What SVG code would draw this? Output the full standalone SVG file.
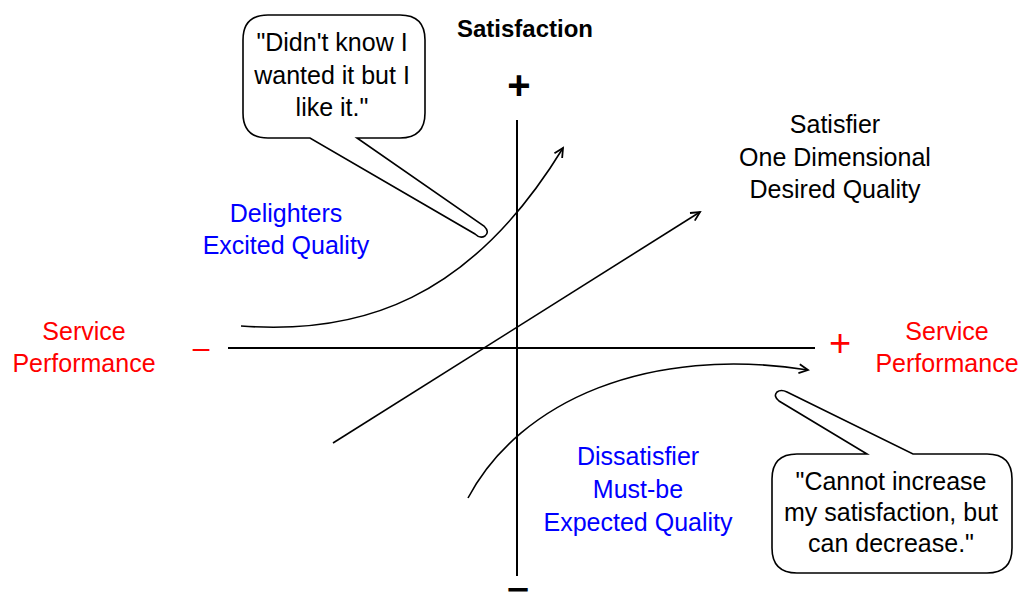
<svg xmlns="http://www.w3.org/2000/svg" width="1024" height="603" viewBox="0 0 1024 603">
<style>
text{font-family:"Liberation Sans",Arial,sans-serif;font-size:25px;text-anchor:middle}
.k{fill:#000}
.b{fill:#0000ff}
.r{fill:#ff0000}
.axis{stroke:#000;stroke-width:2;fill:none}
.cur{stroke:#000;stroke-width:1.6;fill:none;marker-end:url(#ah)}
.bub{stroke:#000;stroke-width:1.6;fill:#fff}
</style>
<defs>
<marker id="ah" markerUnits="userSpaceOnUse" markerWidth="14" markerHeight="14" refX="10" refY="5" orient="auto" viewBox="0 0 14 10">
<polyline points="1,0.5 10,5 1,9.5" fill="none" stroke="#000" stroke-width="1.8"/>
</marker>
</defs>
<rect width="1024" height="603" fill="#fff"/>
<g id="axes">
<line class="axis" x1="517" y1="120" x2="517" y2="576"/>
<line class="axis" x1="228" y1="348" x2="815" y2="348"/>
<text x="519" y="99" style="font-size:40px;font-weight:bold">+</text>
<text x="0" y="0" transform="translate(518,597) scale(1.6,1)" style="font-size:22px;font-weight:bold;stroke:#000;stroke-width:1">−</text>
<text x="525" y="37" style="font-weight:bold;font-size:24px">Satisfaction</text>
<text class="r" x="201" y="358" style="font-size:30px">–</text>
<text class="r" x="840" y="356" style="font-size:38px">+</text>
<text class="r" x="84" y="340">Service</text>
<text class="r" x="84" y="372">Performance</text>
<text class="r" x="947" y="340">Service</text>
<text class="r" x="947" y="372">Performance</text>
</g>
<g id="connectors">
<path class="cur" d="M241,326 C360,335 470,300 563,148"/>
<path class="cur" d="M333,443 L700,212"/>
<path class="cur" d="M468,498 C520,400 650,345 808,370"/>
</g>
<g id="delighters">
<text class="b" x="286" y="222">Delighters</text>
<text class="b" x="286" y="254">Excited Quality</text>
</g>
<g id="satisfier">
<text class="k" x="835" y="133">Satisfier</text>
<text class="k" x="835" y="166">One Dimensional</text>
<text class="k" x="835" y="198">Desired Quality</text>
</g>
<g id="dissatisfier">
<text class="b" x="638" y="465">Dissatisfier</text>
<text class="b" x="638" y="498">Must-be</text>
<text class="b" x="638" y="531">Expected Quality</text>
</g>
<g id="bubble1">
<path class="bub" d="M268,15 H400 Q425,15 425,40 V113 Q425,138 400,138 H357 L484,226 Q490,232 485,236 Q480,239 475,234 L310,138 H268 Q243,138 243,113 V40 Q243,15 268,15 Z"/>
<text class="k" x="332" y="51">"Didn't know I</text>
<text class="k" x="332" y="84">wanted it but I</text>
<text class="k" x="332" y="116">like it."</text>
</g>
<g id="bubble2">
<path class="bub" d="M797,454 H867 L779,401 Q773,396 777,392 Q781,389 787,392 L913,454 H987 Q1012,454 1012,479 V548 Q1012,573 987,573 H797 Q772,573 772,548 V479 Q772,454 797,454 Z"/>
<text class="k" x="891" y="490">"Cannot increase</text>
<text class="k" x="891" y="521">my satisfaction, but</text>
<text class="k" x="891" y="552">can decrease."</text>
</g>
</svg>
